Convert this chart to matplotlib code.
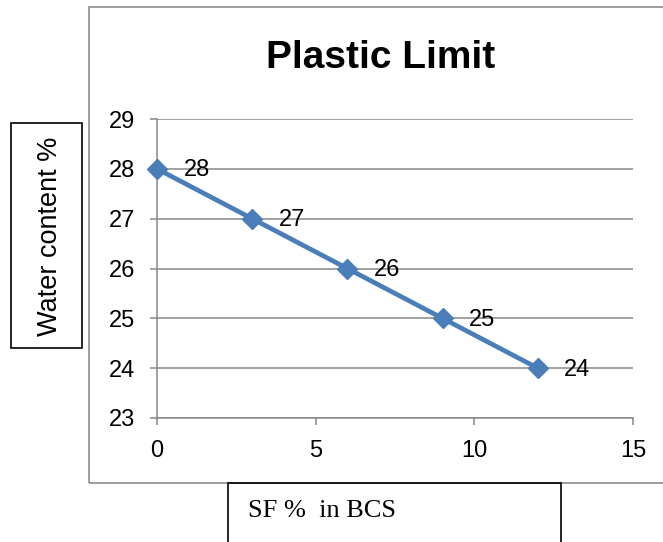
import matplotlib as mpl
mpl.use('Agg')
import matplotlib.pyplot as plt
from matplotlib.patches import Rectangle

sf_pct = [0, 3, 6, 9, 12]
water_content = [28, 27, 26, 25, 24]
x_ticks = [0, 5, 10, 15]
y_ticks = [23, 24, 25, 26, 27, 28, 29]

plt.rcParams['font.family'] = ['Liberation Sans', 'DejaVu Sans']

W, H = 663, 542
fig = plt.figure(figsize=(W / 100, H / 100), dpi=100)

def fx(px):
    return px / W

def fy(py):
    return 1 - py / H

ax = fig.add_axes([fx(157), fy(418), fx(633) - fx(157), fy(119) - fy(418)])

grid_col = '#878787'
line_col = '#4a7ebb'

ax.plot(sf_pct, water_content, color=line_col, linewidth=3.4, marker='D',
        markersize=10.5, markeredgecolor=line_col, zorder=3, clip_on=False)
for x, y in zip(sf_pct, water_content):
    ax.annotate(f"{y}", (x, y), xytext=(19, -1), textcoords='offset points',
                ha='left', va='center', fontsize=17)

ax.set_xlim(0, 15)
ax.set_ylim(23, 29)
ax.set_xticks(x_ticks)
ax.set_yticks(y_ticks)
ax.yaxis.grid(True, color=grid_col, linewidth=1.1)
ax.set_axisbelow(True)
for side in ['top', 'right']:
    ax.spines[side].set_visible(False)
for side in ['left', 'bottom']:
    ax.spines[side].set_color(grid_col)
    ax.spines[side].set_linewidth(1.1)
ax.tick_params(axis='both', direction='out', length=5, width=1.1, color=grid_col,
               labelsize=17, pad=11)

# chart frame (right edge runs off the page)
fig.patches.append(Rectangle((fx(89), fy(483)), fx(720) - fx(89), fy(7) - fy(483),
                             transform=fig.transFigure, fill=False,
                             edgecolor='#8c8c8c', linewidth=1.2, clip_on=False))

fig.text(fx(381), fy(58), "Plastic Limit", fontsize=28, fontweight='bold',
         ha='center', va='center')

# axis title boxes
fig.patches.append(Rectangle((fx(11), fy(348)), fx(82) - fx(11), fy(123) - fy(348),
                             transform=fig.transFigure, fill=False,
                             edgecolor='black', linewidth=1.2))
fig.text(fx(50), fy(236), "Water content %", rotation=90, fontsize=19.5,
         ha='center', va='center')

fig.patches.append(Rectangle((fx(228), fy(560)), fx(561) - fx(228), fy(483) - fy(560),
                             transform=fig.transFigure, fill=False,
                             edgecolor='black', linewidth=1.2, clip_on=False))
fig.text(fx(248), fy(511), "SF %  in BCS", fontsize=19,
         family=['Liberation Serif', 'DejaVu Serif'], ha='left', va='center')

fig.savefig('out.png', dpi=100)
